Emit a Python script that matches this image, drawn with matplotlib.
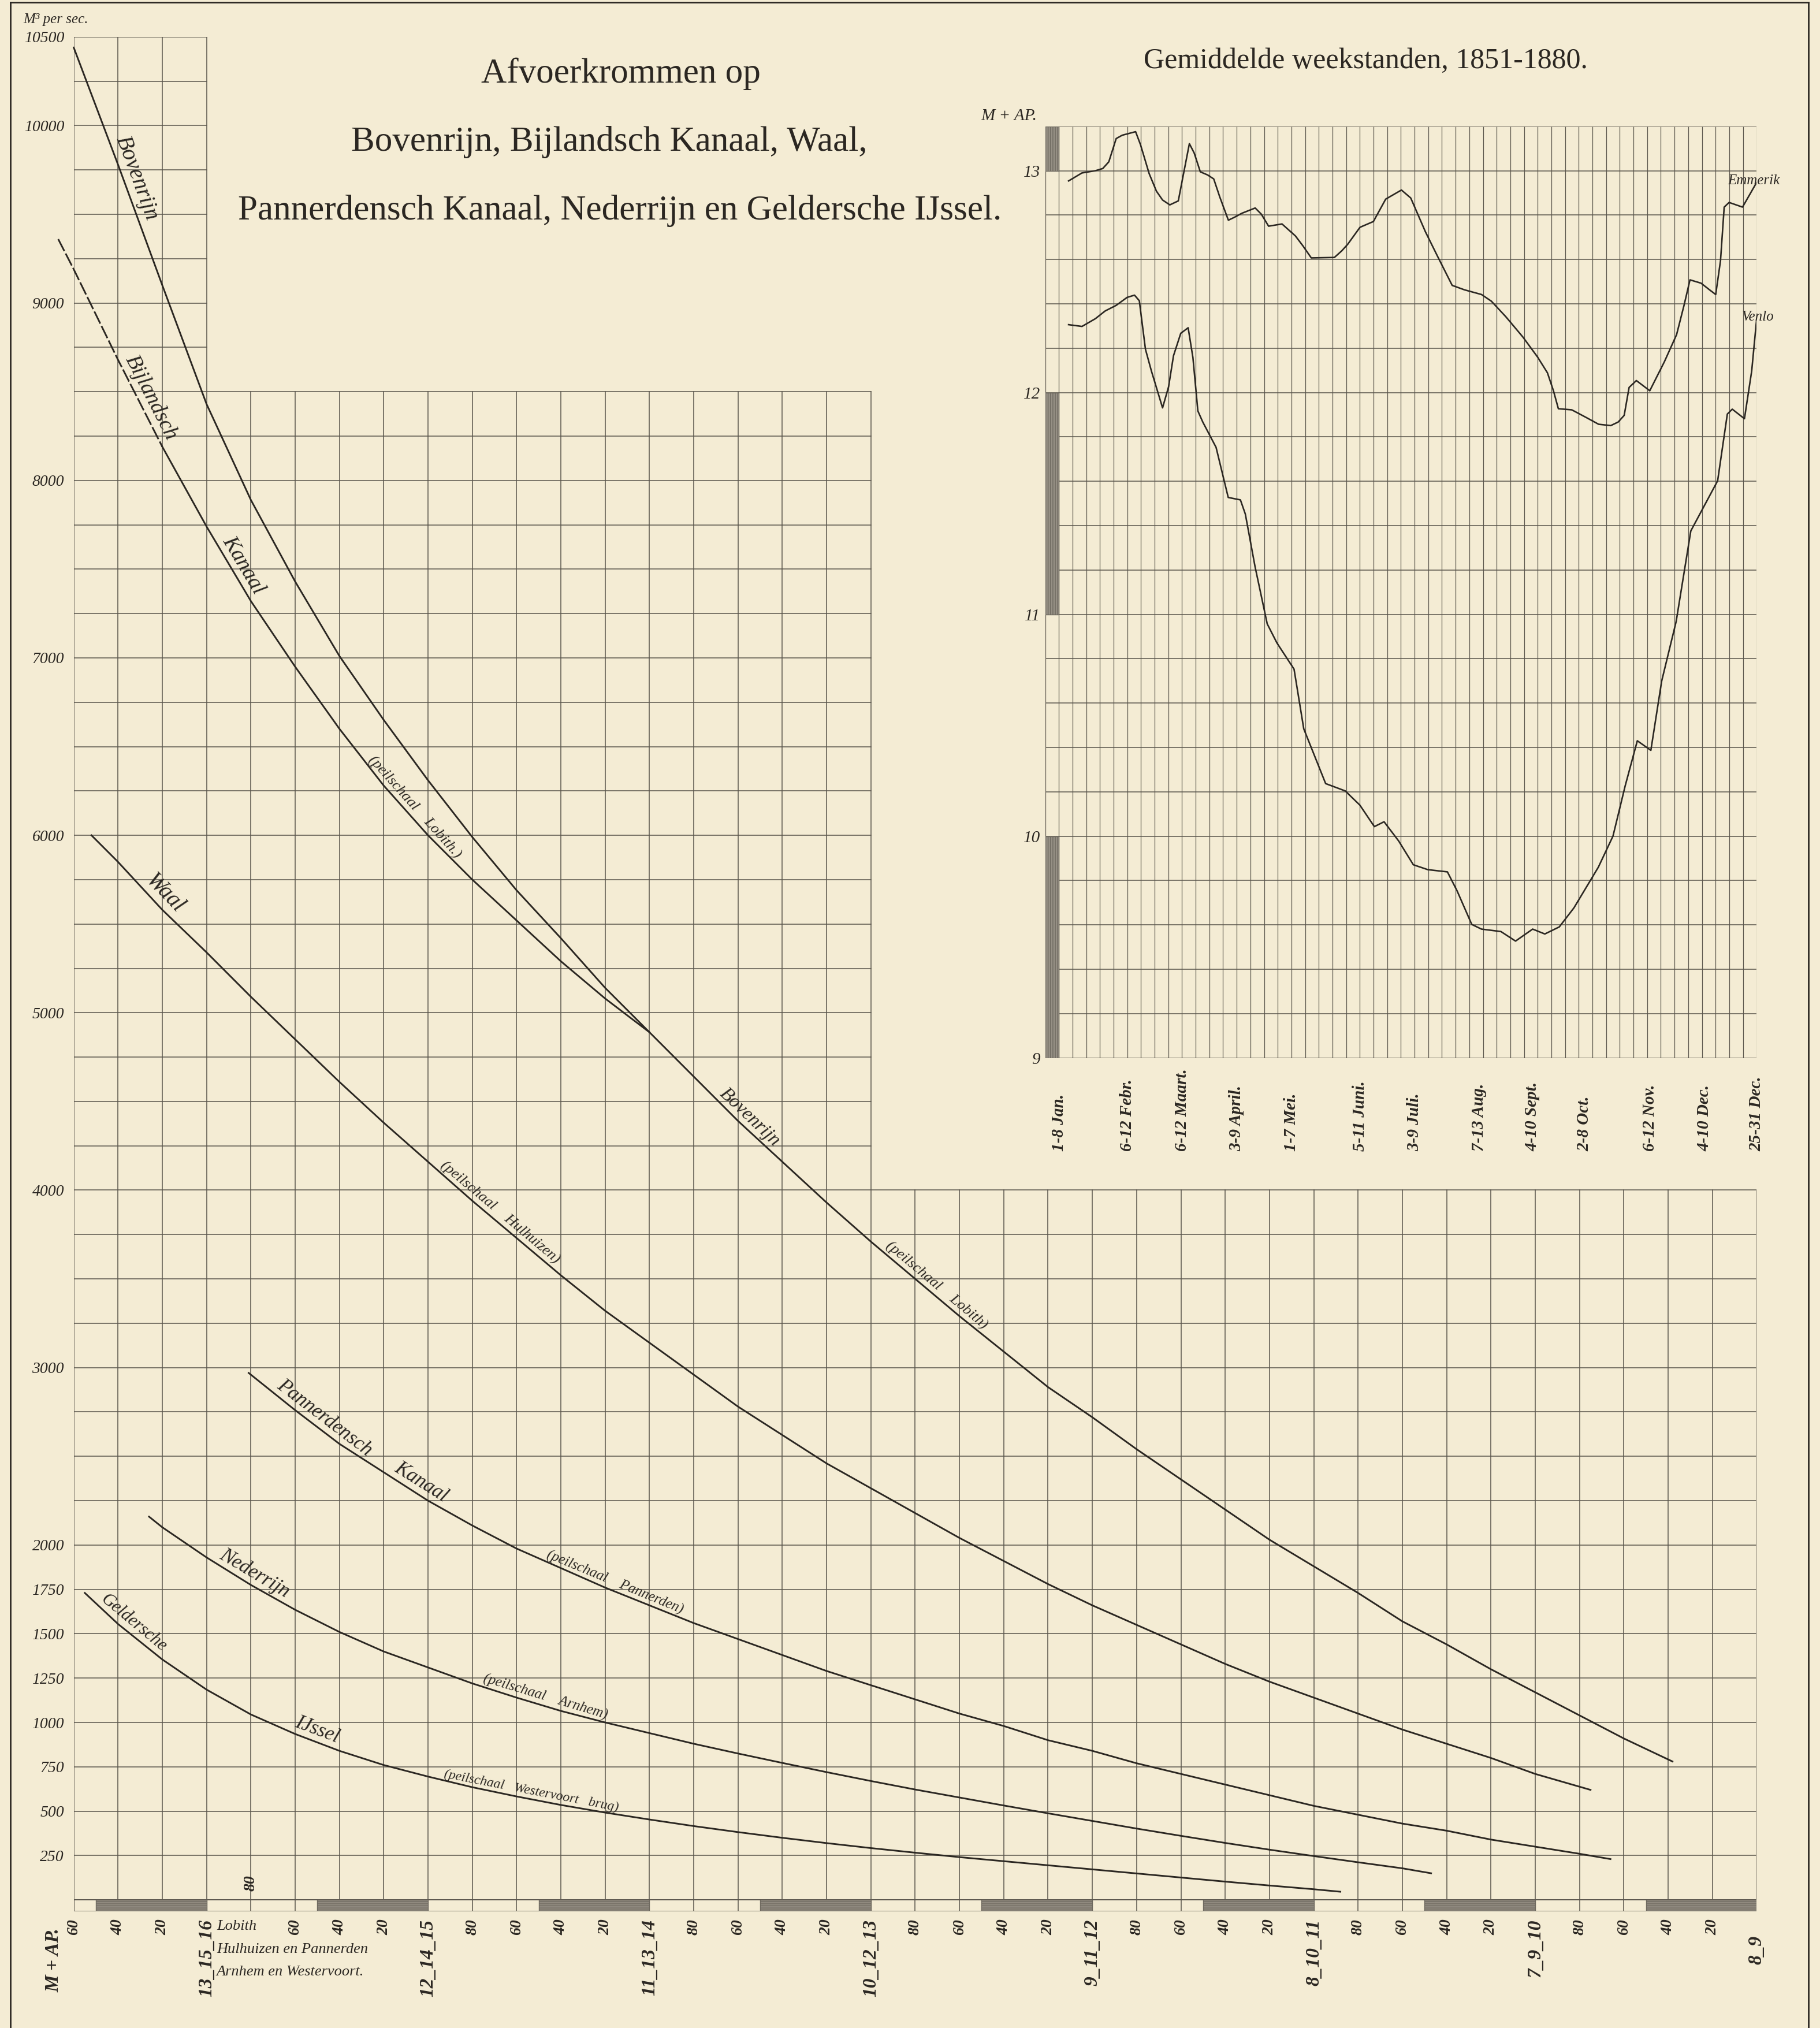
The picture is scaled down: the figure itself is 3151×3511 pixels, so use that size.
import numpy as np
import matplotlib.pyplot as plt
from matplotlib.patches import Rectangle
from matplotlib.lines import Line2D

plt.rcParams['font.family'] = ['Liberation Serif', 'DejaVu Serif']

PAPER = '#f4ecd4'
INK = '#2b2722'
GRID = '#5a554c'
DARK = '#969085'

# ---- Afvoerkrommen: stand (M + AP, schaal Lobith) en afvoer (M3 per sec.) ----
bovenrijn_h = [16.6, 16.4, 16.2, 16.0, 15.8, 15.6, 15.4, 15.2, 15.0, 14.8, 14.6, 14.4, 14.2,
               14.0, 13.8, 13.6, 13.4, 13.2, 13.0, 12.8, 12.6, 12.4, 12.2, 12.0, 11.8, 11.6,
               11.4, 11.2, 11.0, 10.8, 10.6, 10.4, 10.2, 10.0, 9.8, 9.6, 9.38]
bovenrijn_q = [10440, 9780, 9100, 8430, 7890, 7430, 7010, 6650, 6310, 5990, 5690, 5420, 5140,
               4890, 4640, 4390, 4160, 3930, 3710, 3500, 3290, 3090, 2890, 2720, 2540, 2370,
               2200, 2030, 1880, 1730, 1570, 1440, 1300, 1170, 1040, 910, 780]

bijlandsch_h = [16.67, 16.6, 16.4, 16.2, 16.0, 15.8, 15.6, 15.4, 15.2, 15.0, 14.8, 14.6, 14.4,
                14.2, 14.0]
bijlandsch_q = [9360, 9190, 8680, 8190, 7740, 7320, 6950, 6600, 6280, 6000, 5750, 5520, 5290,
                5080, 4890]

waal_h = [16.52, 16.4, 16.2, 16.0, 15.8, 15.6, 15.4, 15.2, 15.0, 14.8, 14.6, 14.4, 14.2, 14.0,
          13.8, 13.6, 13.4, 13.2, 13.0, 12.8, 12.6, 12.4, 12.2, 12.0, 11.8, 11.6, 11.4, 11.2,
          11.0, 10.8, 10.6, 10.4, 10.2, 10.0, 9.75]
waal_q = [6000, 5850, 5580, 5340, 5090, 4850, 4610, 4380, 4160, 3940, 3730, 3520, 3320, 3140,
          2960, 2780, 2620, 2460, 2320, 2180, 2040, 1910, 1780, 1660, 1550, 1440, 1330, 1230,
          1140, 1050, 960, 880, 800, 710, 620]

pannerden_h = [15.81, 15.6, 15.4, 15.2, 15.0, 14.8, 14.6, 14.4, 14.2, 14.0, 13.8, 13.6, 13.4,
               13.2, 13.0, 12.8, 12.6, 12.4, 12.2, 12.0, 11.8, 11.6, 11.4, 11.2, 11.0, 10.8,
               10.6, 10.4, 10.2, 10.0, 9.8, 9.66]
pannerden_q = [2970, 2760, 2570, 2410, 2250, 2110, 1980, 1870, 1760, 1660, 1560, 1470, 1380,
               1290, 1210, 1130, 1050, 980, 900, 840, 770, 710, 650, 590, 530, 480,
               430, 390, 340, 300, 260, 230]

nederrijn_h = [16.26, 16.2, 16.0, 15.8, 15.6, 15.4, 15.2, 15.0, 14.8, 14.6, 14.4, 14.2, 14.0,
               13.8, 13.6, 13.4, 13.2, 13.0, 12.8, 12.6, 12.4, 12.2, 12.0, 11.8, 11.6, 11.4,
               11.2, 11.0, 10.8, 10.6, 10.47]
nederrijn_q = [2160, 2100, 1930, 1775, 1635, 1510, 1400, 1310, 1220, 1140, 1065, 1000, 940,
               880, 825, 772, 720, 670, 622, 577, 532, 488, 445, 402, 361, 321,
               283, 247, 212, 178, 150]

ijssel_h = [16.55, 16.4, 16.2, 16.0, 15.8, 15.6, 15.4, 15.2, 15.0, 14.8, 14.6, 14.4, 14.2, 14.0,
            13.8, 13.6, 13.4, 13.2, 13.0, 12.8, 12.6, 12.4, 12.2, 12.0, 11.8, 11.6, 11.4, 11.2,
            11.0, 10.88]
ijssel_q = [1730, 1555, 1355, 1185, 1045, 935, 840, 760, 695, 635, 583, 535, 492, 453,
            416, 382, 350, 320, 292, 266, 241, 218, 195, 172, 149, 126, 103, 81,
            60, 46]

q_ticks = [10500, 10000, 9000, 8000, 7000, 6000, 5000, 4000, 3000, 2000,
           1750, 1500, 1250, 1000, 750, 500, 250]
stage_major = [16, 15, 14, 13, 12, 11, 10, 9]
stage_major_labels = ['13_15_16', '12_14_15', '11_13_14', '10_12_13', '9_11_12',
                      '8_10_11', '7_9_10', '8_9']
gauge_names = ['Lobith', 'Hulhuizen en Pannerden', 'Arnhem en Westervoort.']

# ---- Gemiddelde weekstanden 1851-1880 (M + AP) ----
emmerik_week = [1.71, 2.69, 3.67, 4.21, 4.65, 5.19, 5.63, 6.61, 6.97, 7.60, 8.13, 8.58, 9.11,
                9.73, 10.09, 10.54, 10.89, 11.34, 11.87, 12.32, 12.76, 13.39, 13.83, 14.37,
                15.35, 15.80, 16.33, 17.31, 18.29, 18.83, 19.45, 21.14, 21.68, 22.12, 23.01,
                23.99, 24.89, 26.04, 26.72, 27.79, 28.68, 29.75, 30.65, 31.89, 32.61, 33.68,
                34.92, 35.99, 36.71, 37.15, 37.51, 38.49, 39.56, 40.45, 41.34, 41.88, 42.32,
                42.68, 43.21, 43.66, 44.19, 45.26, 46.15, 46.69, 47.13, 47.94, 48.56, 49.01,
                49.36, 49.63, 49.99, 50.97, 52.0]
emmerik_level = [12.954, 12.99, 13.0, 13.01, 13.04, 13.145, 13.16, 13.176, 13.117, 12.987,
                 12.908, 12.868, 12.846, 12.864, 12.979, 13.122, 13.08, 12.995, 12.981, 12.963,
                 12.882, 12.777, 12.79, 12.808, 12.832, 12.804, 12.75, 12.76, 12.706, 12.662,
                 12.607, 12.609, 12.639, 12.669, 12.745, 12.771, 12.872, 12.913, 12.877, 12.725,
                 12.614, 12.483, 12.463, 12.442, 12.412, 12.341, 12.25, 12.16, 12.089, 12.008,
                 11.927, 11.922, 11.887, 11.857, 11.851, 11.867, 11.897, 12.023, 12.054, 12.033,
                 12.008, 12.139, 12.261, 12.392, 12.508, 12.493, 12.463, 12.442, 12.594,
                 12.836, 12.857, 12.836, 12.947]

venlo_week = [1.71, 2.69, 3.67, 4.39, 5.19, 5.99, 6.53, 6.88, 7.33, 7.77, 8.58, 9.02, 9.38,
              9.91, 10.45, 10.80, 11.16, 11.52, 12.49, 13.38, 14.27, 14.63, 15.34, 16.23,
              16.94, 18.19, 18.90, 20.50, 21.93, 23.0, 24.06, 24.77, 25.84, 26.91, 27.97,
              29.40, 30.11, 31.18, 31.89, 33.31, 34.38, 35.63, 36.52, 37.58, 38.65, 40.43,
              41.50, 42.39, 43.28, 44.27, 45.06, 46.12, 47.19, 49.15, 49.86, 50.22, 51.11,
              51.64, 52.0]
venlo_level = [12.306, 12.298, 12.333, 12.368, 12.393, 12.429, 12.439, 12.414, 12.195, 12.096,
               11.931, 12.026, 12.166, 12.267, 12.292, 12.157, 11.917, 11.867, 11.753, 11.527,
               11.516, 11.452, 11.215, 10.957, 10.871, 10.753, 10.484, 10.237, 10.204, 10.14,
               10.043, 10.065, 9.978, 9.871, 9.849, 9.839, 9.753, 9.602, 9.581, 9.570, 9.527,
               9.581, 9.559, 9.591, 9.677, 9.860, 10.0, 10.226, 10.430, 10.387, 10.699, 10.968,
               11.376, 11.602, 11.903, 11.925, 11.882, 12.097, 12.33]

week_pos = [1, 6, 10, 14, 18, 23, 27, 31.7, 35.6, 39.4, 44.2, 48.2, 52]
week_labels = ['1-8 Jan.', '6-12 Febr.', '6-12 Maart.', '3-9 April.', '1-7 Mei.',
               '5-11 Juni.', '3-9 Juli.', '7-13 Aug.', '4-10 Sept.', '2-8 Oct.',
               '6-12 Nov.', '4-10 Dec.', '25-31 Dec.']
level_ticks = [13, 12, 11, 10, 9]

# ------------------------------------------------------------------
SW, SH = 1407.0, 1568.0


def box(x0, y0, x1, y1):
    return [x0 / SW, 1 - y1 / SH, (x1 - x0) / SW, (y1 - y0) / SH]


fig = plt.figure(figsize=(31.51, 35.11), dpi=100)
fig.patch.set_facecolor(PAPER)

# outer frame of the plate
for xs, ys in [([8, 8], [2, 1568]), ([1398, 1398], [2, 1568]), ([8, 1398], [2, 2])]:
    fig.add_artist(Line2D([x / SW for x in xs], [1 - y / SH for y in ys],
                          transform=fig.transFigure, color=INK, lw=2.0))

# ================= left chart: afvoerkrommen =================
ax = fig.add_axes(box(57, 28.5, 1358, 1478))
ax.set_xlim(16.6, 9.0)
ax.set_ylim(-66, 10500)
ax.patch.set_alpha(0)
for sp in ax.spines.values():
    sp.set_visible(False)
ax.set_xticks([])
ax.set_yticks(q_ticks)
ax.set_yticklabels([str(v) for v in q_ticks], fontstyle='italic', fontsize=20, color=INK)
ax.tick_params(axis='y', length=0, pad=12)

# staircase grid
stages = np.round(np.arange(16.6, 8.99, -0.2), 1)
for s in stages:
    top = 10500 if s >= 15.99 else (8500 if s >= 12.99 else 4000)
    ax.plot([s, s], [-66, top], color=GRID, lw=1.1, zorder=1)
for q in np.arange(0, 10501, 250):
    right = 9.0 if q <= 4000 else (13.0 if q <= 8500 else 16.0)
    ax.plot([16.6, right], [q, q], color=GRID, lw=1.1, zorder=1)

# scale bar under the grid
ax.add_patch(Rectangle((9.0, -66), 7.6, 66, facecolor='none', edgecolor=GRID, lw=1.3, zorder=3))
for m in stage_major:
    ax.add_patch(Rectangle((m, -66), 0.5, 66, facecolor=DARK, edgecolor='#6e695f',
                           hatch='-----', lw=1.0, zorder=3))

# curves
curves = {
    'bovenrijn': (bovenrijn_h, bovenrijn_q),
    'bijlandsch': (bijlandsch_h, bijlandsch_q),
    'waal': (waal_h, waal_q),
    'pannerden': (pannerden_h, pannerden_q),
    'nederrijn': (nederrijn_h, nederrijn_q),
    'ijssel': (ijssel_h, ijssel_q),
}
for name, (hs, qs) in curves.items():
    if name == 'bijlandsch':
        ax.plot(hs[:4], qs[:4], color=INK, lw=2.1, dashes=(8, 1.6), clip_on=False, zorder=4)
        ax.plot(hs[3:], qs[3:], color=INK, lw=2.1, clip_on=False, zorder=4)
    else:
        ax.plot(hs, qs, color=INK, lw=2.1, clip_on=False, zorder=4)


def on_curve(name, s):
    hs, qs = curves[name]
    return np.interp(s, np.asarray(hs)[::-1], np.asarray(qs)[::-1])


def curve_angle(name, s):
    a = ax.transData.transform((s + 0.08, on_curve(name, s + 0.08)))
    b = ax.transData.transform((s - 0.08, on_curve(name, s - 0.08)))
    return np.degrees(np.arctan2(b[1] - a[1], b[0] - a[0]))


curve_labels = [
    ('Bovenrijn', 'bovenrijn', 16.37, 28),
    ('Bijlandsch', 'bijlandsch', 16.30, 27),
    ('Kanaal', 'bijlandsch', 15.88, 27),
    ('(peilschaal    Lobith.)', 'bijlandsch', 15.09, 19),
    ('Waal', 'waal', 16.23, 28),
    ('(peilschaal    Hulhuizen)', 'waal', 14.70, 19),
    ('Bovenrijn', 'bovenrijn', 13.58, 24),
    ('(peilschaal    Lobith)', 'bovenrijn', 12.73, 19),
    ('Pannerdensch', 'pannerden', 15.50, 25),
    ('Kanaal', 'pannerden', 15.06, 25),
    ('(peilschaal    Pannerden)', 'pannerden', 14.17, 18),
    ('Nederrijn', 'nederrijn', 15.81, 25),
    ('(peilschaal    Arnhem)', 'nederrijn', 14.48, 18),
    ('Geldersche', 'ijssel', 16.36, 22),
    ('IJssel', 'ijssel', 15.52, 25),
    ('(peilschaal   Westervoort   brug)', 'ijssel', 14.54, 17),
]
for text, name, s, size in curve_labels:
    ang = curve_angle(name, s)
    r = np.radians(ang)
    ax.annotate(text, (s, on_curve(name, s)), xytext=(-2.5 * np.sin(r), 2.5 * np.cos(r)),
                textcoords='offset points', rotation=ang, rotation_mode='anchor',
                ha='center', va='bottom', fontstyle='italic', fontsize=size, color=INK,
                zorder=5)

# bottom scale labels
for m, lab in zip(stage_major, stage_major_labels):
    top = -109 if lab != '8_9' else -200
    ax.text(m, top, lab, rotation=90, ha='center', va='top', fontsize=24,
            fontstyle='italic', fontweight='bold', color=INK, clip_on=False)
for s in stages:
    frac = int(round((s - np.floor(s + 1e-6)) * 100))
    if frac == 0:
        continue
    if abs(s - 15.8) < 1e-6:
        ax.text(s, 95, '80', rotation=90, ha='center', va='center', fontsize=20,
                fontstyle='italic', fontweight='bold', color=INK)
        continue
    ax.text(s, -109, str(frac), rotation=90, ha='center', va='top', fontsize=20,
            fontstyle='italic', fontweight='bold', color=INK, clip_on=False)
for i, g in enumerate(gauge_names):
    ax.text(15.955, -150 - 128 * i, g, ha='left', va='center', fontsize=19,
            fontstyle='italic', color=INK, clip_on=False)
ax.text(16.69, -340, 'M + AP.', rotation=90, ha='center', va='center', fontsize=24,
        fontstyle='italic', fontweight='bold', color=INK, clip_on=False)

fig.text(18 / SW, 1 - 15 / SH, 'M³ per sec.', ha='left', va='center', fontsize=18,
         fontstyle='italic', color=INK)

# titles
fig.text(480 / SW, 1 - 57 / SH, 'Afvoerkrommen op', ha='center', va='center',
         fontsize=44, color=INK)
fig.text(471 / SW, 1 - 110 / SH, 'Bovenrijn, Bijlandsch Kanaal, Waal,', ha='center',
         va='center', fontsize=44, color=INK)
fig.text(479 / SW, 1 - 163 / SH, 'Pannerdensch Kanaal, Nederrijn en Geldersche IJssel.',
         ha='center', va='center', fontsize=44, color=INK)

# ================= right chart: weekstanden =================
axr = fig.add_axes(box(808, 97.7, 1358, 818))
axr.set_xlim(0, 52)
axr.set_ylim(9.0, 13.2)
axr.patch.set_alpha(0)
for sp in axr.spines.values():
    sp.set_visible(False)
axr.set_xticks([])
axr.set_yticks(level_ticks)
axr.set_yticklabels([str(v) for v in level_ticks], fontstyle='italic', fontsize=21, color=INK)
axr.tick_params(axis='y', length=0, pad=6)

for lv in np.round(np.arange(9.0, 13.21, 0.2), 1):
    axr.plot([0, 52], [lv, lv], color=GRID, lw=1.1, zorder=1)
for w in range(0, 53):
    axr.plot([w, w], [9.0, 13.2], color=GRID, lw=0.9, zorder=1)
for lo, hi in [(13.0, 13.2), (11.0, 12.0), (9.0, 10.0)]:
    axr.add_patch(Rectangle((0, lo), 1, hi - lo, facecolor=DARK, edgecolor='#6e695f',
                            hatch='||||', lw=1.0, zorder=3))

axr.plot(emmerik_week, emmerik_level, color=INK, lw=1.9, zorder=4)
axr.plot(venlo_week, venlo_level, color=INK, lw=1.9, zorder=4)
axr.text(49.9, 12.955, 'Emmerik', ha='left', va='center', fontsize=18, fontstyle='italic',
         color=INK, clip_on=False, zorder=5)
axr.text(50.9, 12.34, 'Venlo', ha='left', va='center', fontsize=18, fontstyle='italic',
         color=INK, clip_on=False, zorder=5)
axr.text(-0.6, 13.245, 'M + AP.', ha='right', va='center', fontsize=21, fontstyle='italic',
         color=INK, clip_on=False)

for w, lab in zip(week_pos, week_labels):
    axr.text(w, 8.58, lab, rotation=90, ha='center', va='bottom', fontsize=21,
             fontstyle='italic', fontweight='bold', color=INK, clip_on=False)

fig.text(1056 / SW, 1 - 47 / SH, 'Gemiddelde weekstanden, 1851-1880.', ha='center',
         va='center', fontsize=36, color=INK)

fig.savefig('out.png', dpi=100, facecolor=PAPER)
